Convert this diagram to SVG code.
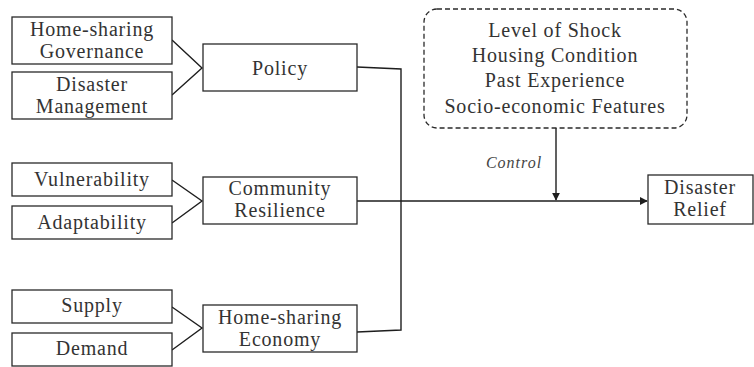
<svg xmlns="http://www.w3.org/2000/svg" width="754" height="367" viewBox="0 0 754 367" font-family="Liberation Serif, Times New Roman, serif">
  <style>
    .box { fill: #ffffff; stroke: #2a2a2a; stroke-width: 1.3; }
    .ctrl { fill: #ffffff; stroke: #2a2a2a; stroke-width: 1.3; stroke-dasharray: 5 3; }
    .lbl { font-size: 20px; letter-spacing: 0.8px; fill: #333333; text-anchor: middle; }
    .note { font-size: 16px; font-style: italic; letter-spacing: 1px; fill: #444444; text-anchor: middle; }
    .wire { fill: none; stroke: #1e1e1e; stroke-width: 1.4; }
  </style>
  <defs>
    <marker id="arrow" viewBox="0 0 10 10" refX="9" refY="5" markerWidth="8" markerHeight="8" markerUnits="userSpaceOnUse" orient="auto">
      <path d="M0,0 L10,5 L0,10 z" fill="#1e1e1e"/>
    </marker>
  </defs>

  <rect width="754" height="367" fill="#ffffff"/>

  <!-- connectors -->
  <g id="connectors">
    <!-- indicators converging on each dimension -->
    <polyline class="wire" points="172,40 202,68 172,95"/>
    <polyline class="wire" points="172,180 202,201 172,223"/>
    <polyline class="wire" points="172,307 202,328 172,350"/>
    <!-- dimensions joined on the bus -->
    <polyline class="wire" points="357,67 401,69 401,330 357,332"/>
    <line class="wire" x1="357" y1="201" x2="647" y2="201" marker-end="url(#arrow)"/>
    <!-- control variables -->
    <line class="wire" x1="556" y1="128" x2="556" y2="200" marker-end="url(#arrow)"/>
    <text class="note" x="514" y="168" font-family="Liberation Serif, serif">Control</text>
  </g>

  <!-- policy branch -->
  <g id="governance" font-family="Liberation Serif, serif">
    <rect class="box" x="12" y="17" width="160" height="47"/>
    <text class="lbl" x="92" y="36">Home-sharing</text>
    <text class="lbl" x="92" y="58">Governance</text>
  </g>
  <g id="disaster-management" font-family="Liberation Serif, serif">
    <rect class="box" x="12" y="72" width="160" height="47"/>
    <text class="lbl" x="92" y="91">Disaster</text>
    <text class="lbl" x="92" y="113">Management</text>
  </g>
  <g id="policy" font-family="Liberation Serif, serif">
    <rect class="box" x="203" y="44" width="154" height="47"/>
    <text class="lbl" x="280" y="75">Policy</text>
  </g>

  <!-- resilience branch -->
  <g id="vulnerability" font-family="Liberation Serif, serif">
    <rect class="box" x="12" y="163" width="160" height="33"/>
    <text class="lbl" x="92" y="186">Vulnerability</text>
  </g>
  <g id="adaptability" font-family="Liberation Serif, serif">
    <rect class="box" x="12" y="206" width="160" height="33"/>
    <text class="lbl" x="92" y="229">Adaptability</text>
  </g>
  <g id="community-resilience" font-family="Liberation Serif, serif">
    <rect class="box" x="203" y="177" width="154" height="47"/>
    <text class="lbl" x="280" y="195">Community</text>
    <text class="lbl" x="280" y="217">Resilience</text>
  </g>

  <!-- economy branch -->
  <g id="supply" font-family="Liberation Serif, serif">
    <rect class="box" x="12" y="290" width="160" height="33"/>
    <text class="lbl" x="92" y="312">Supply</text>
  </g>
  <g id="demand" font-family="Liberation Serif, serif">
    <rect class="box" x="12" y="333" width="160" height="33"/>
    <text class="lbl" x="92" y="355">Demand</text>
  </g>
  <g id="home-sharing-economy" font-family="Liberation Serif, serif">
    <rect class="box" x="203" y="305" width="154" height="47"/>
    <text class="lbl" x="280" y="324">Home-sharing</text>
    <text class="lbl" x="280" y="346">Economy</text>
  </g>

  <!-- controls -->
  <g id="controls" font-family="Liberation Serif, serif">
    <rect class="ctrl" x="424" y="9" width="263" height="119" rx="13" ry="13"/>
    <text class="lbl" x="555" y="37">Level of Shock</text>
    <text class="lbl" x="555" y="62">Housing Condition</text>
    <text class="lbl" x="555" y="87">Past Experience</text>
    <text class="lbl" x="555" y="113">Socio-economic Features</text>
  </g>

  <!-- outcome -->
  <g id="disaster-relief" font-family="Liberation Serif, serif">
    <rect class="box" x="648" y="175" width="105" height="49"/>
    <text class="lbl" x="700" y="194">Disaster</text>
    <text class="lbl" x="700" y="216">Relief</text>
  </g>
</svg>
